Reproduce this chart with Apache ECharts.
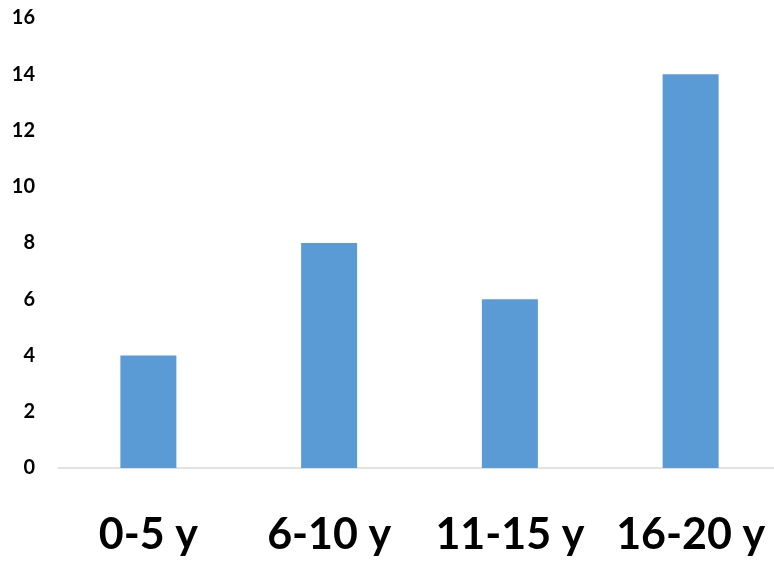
<!DOCTYPE html>
<html><head><meta charset="utf-8">
<script src="https://cdn.jsdelivr.net/npm/echarts@6/dist/echarts.min.js"></script>
<style>html,body{margin:0;padding:0;background:#fff}#c{width:774px;height:562px}</style>
</head><body><div id="c"></div>
<script>
const categories = ['0-5 y', '6-10 y', '11-15 y', '16-20 y'];
const values = [4, 8, 6, 14];
const yTicks = [0, 2, 4, 6, 8, 10, 12, 14, 16];

const chart = echarts.init(document.getElementById('c'));
chart.setOption({
  animation: false,
  grid: { left: 58, width: 723, top: 18, bottom: 94, containLabel: false, outerBoundsMode: 'none' },
  xAxis: {
    type: 'category',
    data: categories,
    axisLine: { lineStyle: { color: '#D9D9D9', width: 1.5 } },
    axisTick: { show: false },
    axisLabel: { interval: 0, hideOverlap: false, color: '#000', fontFamily: 'Lato', fontWeight: 'bold', fontSize: 43, lineHeight: 43, margin: 46 }
  },
  yAxis: {
    type: 'value',
    min: yTicks[0], max: yTicks[yTicks.length - 1], interval: 2,
    splitLine: { show: false },
    axisLine: { show: false },
    axisTick: { show: false },
    axisLabel: { color: '#000', fontFamily: 'Lato', fontWeight: 'bold', fontSize: 20, margin: 23 }
  },
  series: [{
    type: 'bar',
    data: values,
    barWidth: 56,
    itemStyle: { color: '#5B9BD5' }
  }]
});
</script></body></html>
